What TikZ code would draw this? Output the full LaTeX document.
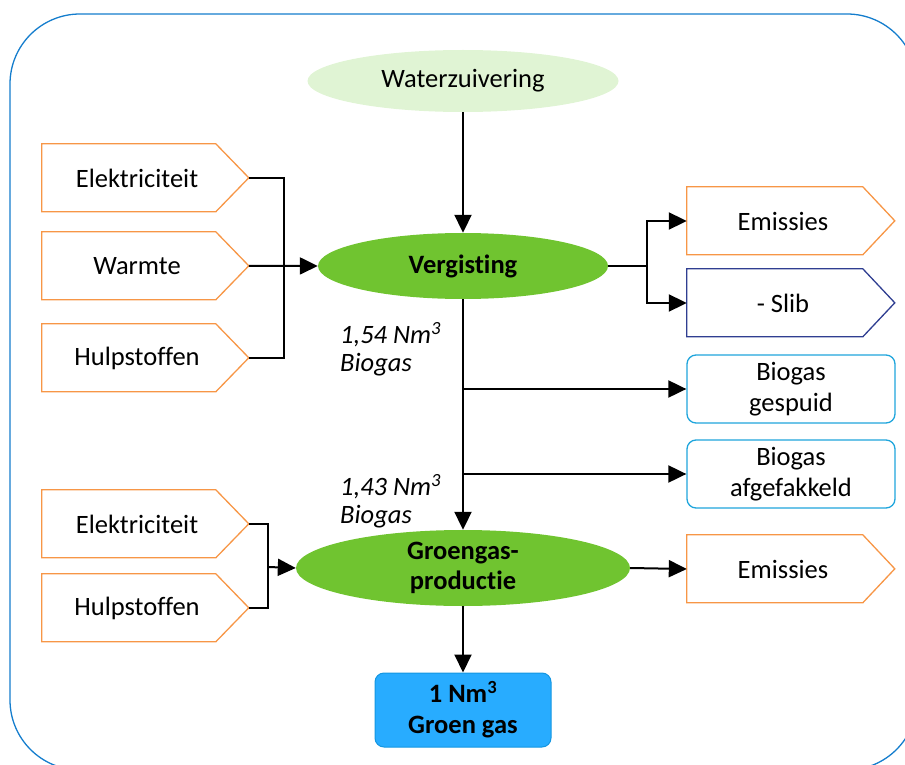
\documentclass[tikz,border=0pt]{standalone}
\usepackage{fontspec}
\setmainfont{Carlito}[Ligatures={NoCommon}]
\usetikzlibrary{arrows.meta,calc,shapes.geometric}

\definecolor{frameblue}{RGB}{20,125,205}
\definecolor{inorange}{RGB}{247,150,70}
\definecolor{slibblue}{RGB}{47,62,145}
\definecolor{lossblue}{RGB}{30,165,220}
\definecolor{procgreen}{RGB}{112,196,48}
\definecolor{srcgreen}{RGB}{224,244,212}
\definecolor{gasfill}{RGB}{40,172,255}
\definecolor{gasline}{RGB}{20,150,225}

\tikzset{
  txt/.style={font=\fontsize{26.5}{31}\selectfont, align=center},
  pbody/.style={txt, minimum height=68, inner sep=0pt},
  proc/.style={ellipse, fill=procgreen, inner sep=0pt, txt, font=\fontsize{26.5}{30}\selectfont\bfseries},
  loss/.style={txt, draw=lossblue, line width=1.3pt, rounded corners=9, minimum width=208, minimum height=68, inner sep=0pt},
  flow/.style={line width=2pt, -{Triangle[length=18pt,width=17pt]}},
  link/.style={line width=2pt},
  qty/.style={font=\fontsize{26.5}{28}\selectfont\itshape, align=left, anchor=north west, inner sep=0pt},
}

% pentagon box pointing right: name, x centre of text area, y centre, width of text area,
% flat length, full length, text, colour
\newcommand\arrowbox[8]{%
  \node[pbody, minimum width=#4] (#1) at (#2,#3) {#7};
  \draw[#8, line width=1.3pt] (#1.north west) -- ++(#5,0) -- ++(#6-#5,34) -- ++(#5-#6,34) -- ++(-#5,0) -- cycle;
  \coordinate (#1-tip) at ($(#1.north west)+(#6,34)$);
}

\begin{document}
\begin{tikzpicture}[x=1pt,y=-1pt]
\useasboundingbox (0,0) rectangle (905,765);

% frame
\draw[frameblue, line width=1.3pt, rounded corners=70] (10,14) rectangle (917,770);

% process steps
\node[ellipse, fill=srcgreen, minimum width=311, minimum height=62, txt] (water) at (463,81) {Waterzuivering};
\node[proc, minimum width=290, minimum height=66] (verg) at (463,266) {Vergisting};
\node[proc, minimum width=334, minimum height=76] (groen) at (463,568) {Groengas-\\productie};
\node[txt, font=\fontsize{26.5}{31}\selectfont\bfseries, draw=gasline, fill=gasfill, line width=1pt, rounded corners=9,
      minimum width=176, minimum height=74, inner sep=0pt] (product) at (463,710) {1 Nm\textsuperscript{3}\\Groen gas};

% inputs to digestion
\arrowbox{el1}{137}{178}{190}{174}{207}{Elektriciteit}{inorange}
\arrowbox{warm}{137}{266}{190}{174}{207}{Warmte}{inorange}
\arrowbox{hulp1}{137}{358}{190}{174}{207}{Hulpstoffen}{inorange}

% inputs to upgrading
\arrowbox{el2}{137}{524}{190}{174}{207}{Elektriciteit}{inorange}
\arrowbox{hulp2}{137}{608}{190}{174}{207}{Hulpstoffen}{inorange}

% outputs
\arrowbox{em1}{783}{221}{192}{176}{208}{Emissies}{inorange}
\arrowbox{slib}{783}{303}{192}{176}{208}{- Slib}{slibblue}
\arrowbox{em2}{783}{569}{192}{176}{208}{Emissies}{inorange}
\node[loss] (spui) at (791,389) {Biogas\\gespuid};
\node[loss] (fakkel) at (791,474) {Biogas\\afgefakkeld};

% junction points
\coordinate (jin1) at (284,266);
\coordinate (jout1) at (647,266);
\coordinate (jin2) at (268,567);
\coordinate (b1) at (463,389);
\coordinate (b2) at (463,474);

% connectors
\draw[flow] (water) -- (verg);
\draw[link] (el1-tip) -| (jin1);
\draw[link] (hulp1-tip) -| (jin1);
\draw[flow] (warm-tip) -- (verg.west);
\draw[link] (verg.east) -- (jout1);
\draw[flow] (jout1) |- (em1.west);
\draw[flow] (jout1) |- (slib.west);
\draw[flow] (verg.south) -- (groen.north);
\draw[flow] (b1) -- (spui.west);
\draw[flow] (b2) -- (fakkel.west);
\draw[link] (el2-tip) -| (jin2);
\draw[link] (hulp2-tip) -| (jin2);
\draw[flow] (jin2) -- (groen.west);
\draw[flow] (groen.east) -- (em2.west);
\draw[flow] (groen.south) -- (product.north);

% quantities
\node[qty] (q1) at (340,322) {1,54 Nm\textsuperscript{3}\\Biogas};
\node[qty] (q2) at (340,474) {1,43 Nm\textsuperscript{3}\\Biogas};
\end{tikzpicture}
\end{document}
